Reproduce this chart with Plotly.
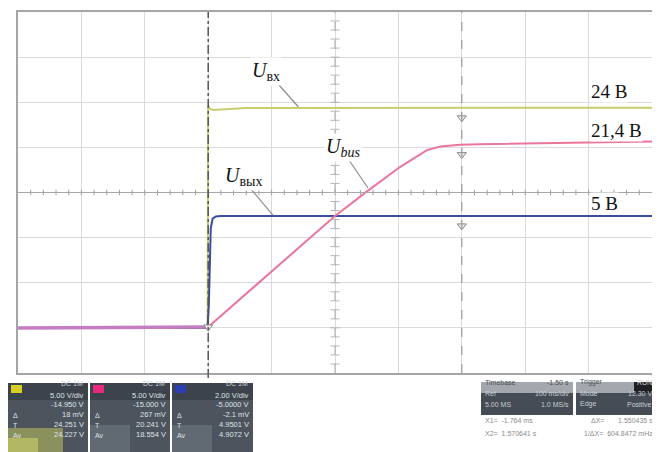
import numpy as np
import plotly.graph_objects as go

# ---- data (screen divisions: x 0..10, y 0..8) ----
t_in = [0.0, 2.99, 3.0, 3.02, 3.08, 3.6, 10.0]
u_in = [1.0, 1.0, 5.93, 5.86, 5.83, 5.87, 5.88]

t_out = [0.0, 2.99, 3.01, 3.04, 3.07, 3.12, 3.2, 10.0]
u_out = [1.0, 1.0, 1.5, 3.2, 3.42, 3.47, 3.48, 3.48]

t_bus = [0.0, 3.0, 5.0, 5.5, 6.03, 6.45, 6.66, 6.97, 7.29, 10.0]
u_bus = [1.0, 1.02, 3.48, 4.02, 4.57, 4.94, 5.02, 5.06, 5.07, 5.13]

level_labels = ["24 В", "21,4 В", "5 В"]
ch_scale = ["5.00 V/div", "5.00 V/div", "2.00 V/div"]
ch_offset = ["-14.950 V", "-15.000 V", "-5.0000 V"]
ch_meas1 = ["18 mV", "267 mV", "-2.1 mV"]
ch_meas2 = ["24.251 V", "20.241 V", "4.9501 V"]
ch_meas3 = ["24.227 V", "18.554 V", "4.9072 V"]

T_TRIG = 3.0
T_CURSOR = 7.0

# page body has an 8px margin: figure is drawn 8px in from the window corner
OFF = 8
W, H = 660 - OFF, 452 - OFF
X0, X1, Y0, Y1 = 18, 652, 12, 373


def px(x):
    return (x - OFF) / W


def py(y):
    return 1 - (y - OFF) / H


C_IN = "#c6cd6c"
C_BUS = "#ea7699"
C_OUT = "#3a4d9e"

fig = go.Figure()

fig.add_trace(go.Scatter(x=t_in, y=u_in, mode="lines", line=dict(color=C_IN, width=2), hoverinfo="skip"))
fig.add_trace(go.Scatter(x=t_out, y=u_out, mode="lines", line=dict(color=C_OUT, width=2), hoverinfo="skip"))
fig.add_trace(go.Scatter(x=t_bus, y=u_bus, mode="lines", line=dict(color=C_BUS, width=2), hoverinfo="skip"))
fig.add_trace(go.Scatter(x=t_bus[:2], y=u_bus[:2], mode="lines", line=dict(color="#c47cc2", width=3.5), hoverinfo="skip"))

cur_y = [float(np.interp(T_CURSOR, t, u)) - 0.22 for t, u in ((t_in, u_in), (t_bus, u_bus), (t_out, u_out))]
fig.add_trace(go.Scatter(x=[T_CURSOR] * 3, y=cur_y, mode="markers",
                         marker=dict(symbol="triangle-down", size=8, color="#e8e8e8",
                                     line=dict(color="#8a8a8a", width=1)), hoverinfo="skip"))
fig.add_trace(go.Scatter(x=[T_TRIG], y=[u_bus[1]], mode="markers",
                         marker=dict(symbol="triangle-down", size=8, color="#eeeeee",
                                     line=dict(color="#888", width=1)), hoverinfo="skip"))
fig.add_trace(go.Scatter(x=[T_TRIG], y=[-0.17], mode="markers", cliponaxis=False,
                         marker=dict(symbol="triangle-up", size=7, color="#b8c43a"), hoverinfo="skip"))
fig.add_trace(go.Scatter(x=[10.08], y=[u_out[-1]], mode="markers", cliponaxis=False,
                         marker=dict(symbol="triangle-left", size=7, color="#b8c43a"), hoverinfo="skip"))
fig.add_trace(go.Scatter(x=[-0.05], y=[u_bus[0]], mode="markers", cliponaxis=False,
                         marker=dict(symbol="triangle-right", size=6, color="#9aa6d8"), hoverinfo="skip"))

shapes = []
shapes.append(dict(type="line", xref="x", yref="y", x0=0, x1=10, y0=4, y1=4,
                   line=dict(color="#a8a8a8", width=1)))
shapes.append(dict(type="line", xref="x", yref="y", x0=5, x1=5, y0=0, y1=8,
                   line=dict(color="#a8a8a8", width=1, dash="dash")))
for i in range(1, 50):
    xv = i * 0.2
    shapes.append(dict(type="line", xref="x", yref="y", x0=xv, x1=xv, y0=3.94, y1=4.06,
                       line=dict(color="#a0a0a0", width=1)))
for i in range(1, 40):
    yv = i * 0.2
    shapes.append(dict(type="line", xref="x", yref="y", x0=4.93, x1=5.07, y0=yv, y1=yv,
                       line=dict(color="#b4b4b4", width=1)))
shapes.append(dict(type="line", xref="x", yref="paper", x0=T_TRIG, x1=T_TRIG, y0=py(378), y1=py(Y0),
                   line=dict(color="#555555", width=1.5, dash="dashdot")))
shapes.append(dict(type="line", xref="x", yref="y", x0=T_CURSOR, x1=T_CURSOR, y0=0, y1=8,
                   line=dict(color="#9a9a9a", width=1.2, dash="dash")))
for (xa, ya, xb, yb) in [(4.10, 6.41, 4.42, 5.90), (5.22, 4.72, 5.52, 4.10), (3.66, 4.10, 4.02, 3.50)]:
    shapes.append(dict(type="line", xref="x", yref="y", x0=xa, y0=ya, x1=xb, y1=yb,
                       line=dict(color="#8c8c8c", width=1.2)))

annotations = []
SERIF = "Liberation Serif, Times New Roman, serif"
for txt, xv, yv in [("<i>U</i><sub>вх</sub>", 3.91, 6.68),
                    ("<i>U</i><sub><i>bus</i></sub>", 5.13, 4.99),
                    ("<i>U</i><sub>вых</sub>", 3.56, 4.36)]:
    annotations.append(dict(x=xv, y=yv, xref="x", yref="y", text=txt, showarrow=False,
                            font=dict(family=SERIF, size=20, color="#111"), bgcolor="white"))
for txt, yv in zip(level_labels, [6.23, 5.37, 3.75]):
    annotations.append(dict(x=9.02, y=yv, xref="x", yref="y", text=txt, showarrow=False, xanchor="left",
                            font=dict(family=SERIF, size=19, color="#111"), bgcolor="white", borderpad=0))

# ---- bottom info panels ----
SANS = "Liberation Sans, Arial, sans-serif"
boxes = [(8, 88, "#d8d020"), (90, 170, "#e8287a"), (172, 253, "#2b3fb2")]
for bi, (bx0, bx1, ic) in enumerate(boxes):
    shapes.append(dict(type="rect", xref="paper", yref="paper", x0=px(bx0), x1=px(bx1), y0=py(452), y1=py(383),
                       fillcolor="#4d545d", line=dict(width=0), layer="above"))
    shapes.append(dict(type="rect", xref="paper", yref="paper", x0=px(bx0), x1=px(bx1), y0=py(400), y1=py(383),
                       fillcolor="#3c434d", line=dict(width=0), layer="above"))
    if bi == 0:
        shapes.append(dict(type="rect", xref="paper", yref="paper", x0=px(bx0), x1=px(bx0 + 55), y0=py(452), y1=py(428),
                           fillcolor="rgba(215,220,90,0.45)", line=dict(width=0), layer="above"))
        shapes.append(dict(type="rect", xref="paper", yref="paper", x0=px(bx0), x1=px(bx0 + 30), y0=py(452), y1=py(438),
                           fillcolor="rgba(225,230,110,0.45)", line=dict(width=0), layer="above"))
    else:
        shapes.append(dict(type="rect", xref="paper", yref="paper", x0=px(bx0), x1=px(bx0 + 40), y0=py(452), y1=py(425),
                           fillcolor="rgba(160,170,180,0.25)", line=dict(width=0), layer="above"))
    shapes.append(dict(type="rect", xref="paper", yref="paper", x0=px(bx0 + 3), x1=px(bx0 + 14), y0=py(393), y1=py(385),
                       fillcolor=ic, line=dict(width=0), layer="above"))
    vals = [ch_scale[bi], ch_offset[bi], ch_meas1[bi], ch_meas2[bi], ch_meas3[bi]]
    for v, yy in zip(vals, [402, 411, 421, 431, 441]):
        annotations.append(dict(x=px(bx1 - 2), y=py(yy), xref="paper", yref="paper", text=v, showarrow=False,
                                xanchor="right", font=dict(family=SANS, size=7.5, color="#dfe3e8")))
    for lab, yy in zip(["Δ", "T", "Av"], [421, 431, 441]):
        annotations.append(dict(x=px(bx0 + 3), y=py(yy), xref="paper", yref="paper", text=lab, showarrow=False,
                                xanchor="left", font=dict(family=SANS, size=7, color="#dfe3e8")))
    annotations.append(dict(x=px(bx1 - 3), y=py(389), xref="paper", yref="paper", text="DC 1M", showarrow=False,
                            xanchor="right", font=dict(family=SANS, size=7, color="#c9ced6")))

for (bx0, bx1, rows) in [(481, 573, [("Timebase", "-1.50 s"), ("Ref", "100 ms/div"), ("5.00 MS", "1.0 MS/s")]),
                         (576, 656, [("Trigger", "RUN"), ("Mode", "12.30 V"), ("Edge", "Positive")])]:
    for ri, (ya, yb) in enumerate([(382, 393), (393, 404), (404, 415)]):
        fc = "#a3a8ae" if ri == 0 else "#454c55"
        shapes.append(dict(type="rect", xref="paper", yref="paper", x0=px(bx0), x1=px(bx1), y0=py(yb), y1=py(ya),
                           fillcolor=fc, line=dict(width=0), layer="above"))
        tc = "#4a4f55" if ri == 0 else "#c8cdd3"
        annotations.append(dict(x=px(bx0 + 2), y=py((ya + yb) / 2), xref="paper", yref="paper", text=rows[ri][0],
                                showarrow=False, xanchor="left", font=dict(family=SANS, size=7, color=tc)))
        if bx0 == 576 and ri == 0:
            shapes.append(dict(type="rect", xref="paper", yref="paper", x0=px(bx1 - 22), x1=px(bx1), y0=py(yb), y1=py(ya),
                               fillcolor="#1e2024", line=dict(width=0), layer="above"))
            tc = "#d0d0d0"
        annotations.append(dict(x=px(bx1 - 2), y=py((ya + yb) / 2), xref="paper", yref="paper", text=rows[ri][1],
                                showarrow=False, xanchor="right", font=dict(family=SANS, size=7, color=tc)))
for txt_l, txt_r, yy in [("X1=  -1.764 ms", "ΔX=       1.550435 s", 426),
                         ("X2=  1.570641 s", "1/ΔX=  604.8472 mHz", 439)]:
    annotations.append(dict(x=px(483), y=py(yy), xref="paper", yref="paper", text=txt_l, showarrow=False,
                            xanchor="left", font=dict(family=SANS, size=7, color="#8a8a8a")))
    annotations.append(dict(x=px(655), y=py(yy), xref="paper", yref="paper", text=txt_r, showarrow=False,
                            xanchor="right", font=dict(family=SANS, size=7, color="#8a8a8a")))

fig.update_layout(
    width=W, height=H, margin=dict(l=0, r=0, t=0, b=0),
    paper_bgcolor="white", plot_bgcolor="white", showlegend=False,
    xaxis=dict(domain=[px(X0), px(X1)], range=[0, 10], dtick=1, showgrid=True, gridcolor="#dadada",
               gridwidth=1, zeroline=False, showticklabels=False, ticks="", showline=True, mirror=True,
               linecolor="#a5a5a5", linewidth=2, fixedrange=True),
    yaxis=dict(domain=[py(Y1), py(Y0)], range=[0, 8], dtick=1, showgrid=True, gridcolor="#dadada",
               gridwidth=1, zeroline=False, showticklabels=False, ticks="", showline=True, mirror=True,
               linecolor="#a5a5a5", linewidth=2, fixedrange=True),
    shapes=shapes, annotations=annotations,
)

fig.write_html("out.html")
